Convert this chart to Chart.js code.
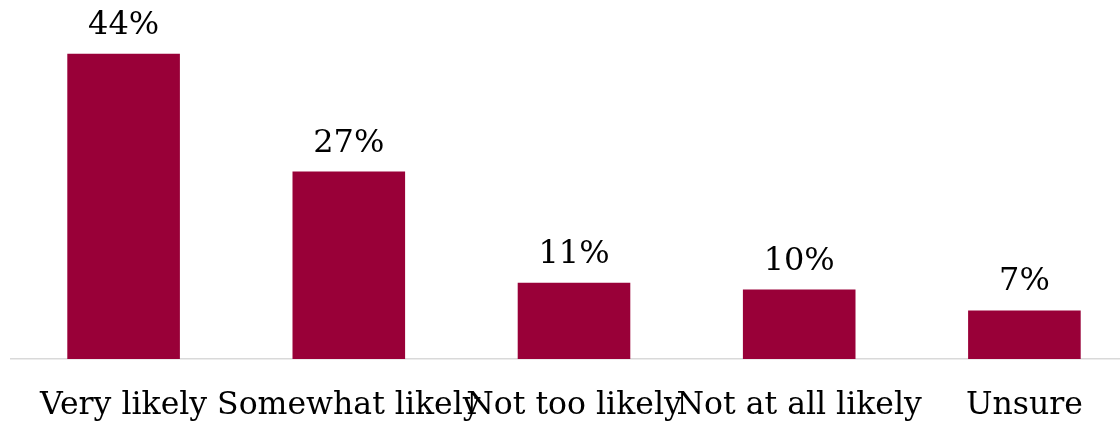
<!DOCTYPE html>
<html>
<head>
<meta charset="utf-8">
<script src="https://cdn.jsdelivr.net/npm/chart.js@4/dist/chart.umd.min.js"></script>
<style>
  html, body { margin: 0; padding: 0; overflow: hidden; background: #fff; }
  #wrap { width: 1137px; height: 427px; position: relative; }
</style>
</head>
<body>
<div id="wrap"><canvas id="myChart"></canvas></div>
<script>
const labels = ['Very likely', 'Somewhat likely', 'Not too likely', 'Not at all likely', 'Unsure']
const values = [44, 27, 11, 10, 7]

const fontFamily = '"DejaVu Serif", serif'

// draw the % above each bar
const valueLabels = {
  id: 'valueLabels',
  afterDatasetsDraw(chart) {
    const ctx = chart.ctx
    const meta = chart.getDatasetMeta(0)
    ctx.save()
    ctx.font = '32px ' + fontFamily
    ctx.fillStyle = '#000'
    ctx.textAlign = 'center'
    ctx.textBaseline = 'alphabetic'
    meta.data.forEach((bar, i) => {
      ctx.fillText(values[i] + '%', bar.x, bar.y - 20)
    })
    ctx.restore()
  }
}

const ctx = document.getElementById('myChart').getContext('2d')
new Chart(ctx, {
  type: 'bar',
  data: {
    labels: labels,
    datasets: [{
      data: values,
      backgroundColor: '#990038',
      barPercentage: 0.5,
      categoryPercentage: 1.0
    }]
  },
  options: {
    responsive: true,
    maintainAspectRatio: false,
    animation: false,
    layout: { padding: { left: 11, top: 12, right: 0, bottom: 0 } },
    plugins: {
      legend: { display: false },
      tooltip: { enabled: false }
    },
    scales: {
      y: {
        display: false,
        min: 0,
        max: 50
      },
      x: {
        grid: { display: false },
        border: { display: true, color: '#d9d9d9', width: 1.5 },
        afterFit: (scale) => { scale.height = 68 },
        ticks: {
          autoSkip: false,
          maxRotation: 0,
          minRotation: 0,
          color: '#000',
          padding: 20,
          font: { family: fontFamily, size: 31.5 }
        }
      }
    }
  },
  plugins: [valueLabels]
})
</script>
</body>
</html>
